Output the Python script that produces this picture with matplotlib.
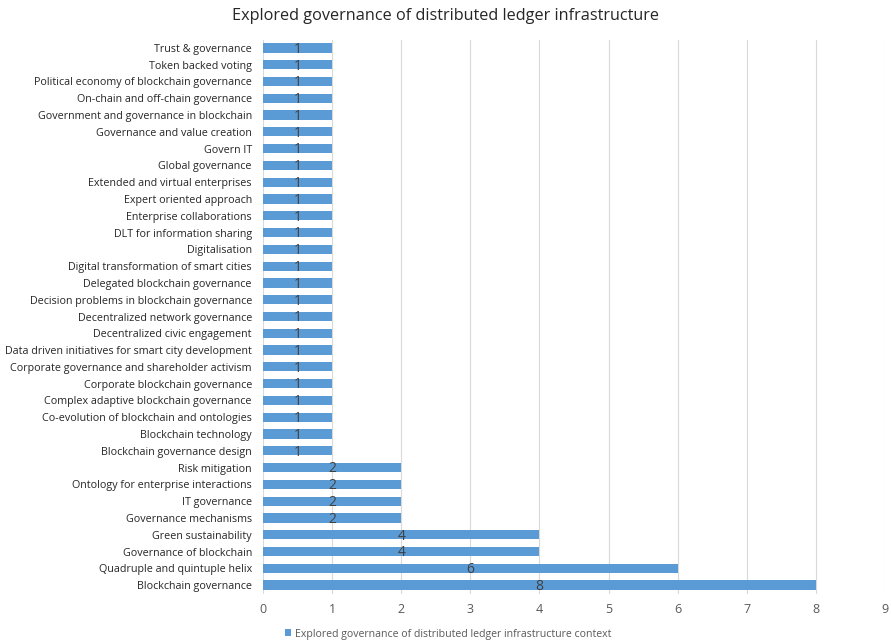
import matplotlib
matplotlib.use("Agg")
import matplotlib.pyplot as plt
from matplotlib.patches import Patch

plt.rcParams['font.family'] = ['Open Sans', 'DejaVu Sans']

# Categories listed bottom to top
categories = [
    "Blockchain governance",
    "Quadruple and quintuple helix",
    "Governance of blockchain",
    "Green sustainability",
    "Governance mechanisms",
    "IT governance",
    "Ontology for enterprise interactions",
    "Risk mitigation",
    "Blockchain governance design",
    "Blockchain technology",
    "Co-evolution of blockchain and ontologies",
    "Complex adaptive blockchain governance",
    "Corporate blockchain governance",
    "Corporate governance and shareholder activism",
    "Data driven initiatives for smart city development",
    "Decentralized civic engagement",
    "Decentralized network governance",
    "Decision problems in blockchain governance",
    "Delegated blockchain governance",
    "Digital transformation of smart cities",
    "Digitalisation",
    "DLT for information sharing",
    "Enterprise collaborations",
    "Expert oriented approach",
    "Extended and virtual enterprises",
    "Global governance",
    "Govern IT",
    "Governance and value creation",
    "Government and governance in blockchain",
    "On-chain and off-chain governance",
    "Political economy of blockchain governance",
    "Token backed voting",
    "Trust & governance",
]
counts = [8, 6, 4, 4, 2, 2, 2, 2] + [1] * 25
x_ticks = list(range(0, 10))
series_name = "Explored governance of distributed ledger infrastructure context"
title = "Explored governance of distributed ledger infrastructure"

bar_color = "#5B9BD5"
text_color = "#595959"

fig = plt.figure(figsize=(8.91, 6.42), dpi=100)
ax = fig.add_axes([263 / 891, 1 - 593.5 / 642, 622 / 891, (593.5 - 39.5) / 642])

y = list(range(len(categories)))
bars = ax.barh(y, counts, height=0.55, color=bar_color, zorder=3)

for rect, v in zip(bars, counts):
    ax.text(rect.get_width() / 2, rect.get_y() + rect.get_height() / 2 - 0.08, str(v),
            ha="center", va="center", fontsize=10, color="#404040", zorder=4)

ax.set_xlim(0, 9)
ax.set_ylim(-0.5, len(categories) - 0.5)
ax.set_xticks(x_ticks)
ax.set_xticklabels([str(t) for t in x_ticks], color=text_color, fontsize=9)
ax.set_yticks(y)
ax.set_yticklabels(categories, fontsize=7.75, color="#262626")
ax.tick_params(axis="both", length=0)
ax.tick_params(axis="x", pad=7)
ax.tick_params(axis="y", pad=8)
ax.grid(axis="x", color="#D9D9D9", linewidth=0.8, zorder=0)
for s in ax.spines.values():
    s.set_visible(False)

fig.text(0.5, 1 - 16 / 642, title, ha="center", va="center", fontsize=11.7, color="#262626")

handle = Patch(facecolor=bar_color, edgecolor="none")
fig.legend([handle], [series_name], loc="center", bbox_to_anchor=(448 / 891, 1 - 634 / 642),
           frameon=False, fontsize=7.6, handlelength=0.6, handleheight=0.6,
           handletextpad=0.3, labelcolor=text_color)

fig.savefig("out.png", dpi=100)
